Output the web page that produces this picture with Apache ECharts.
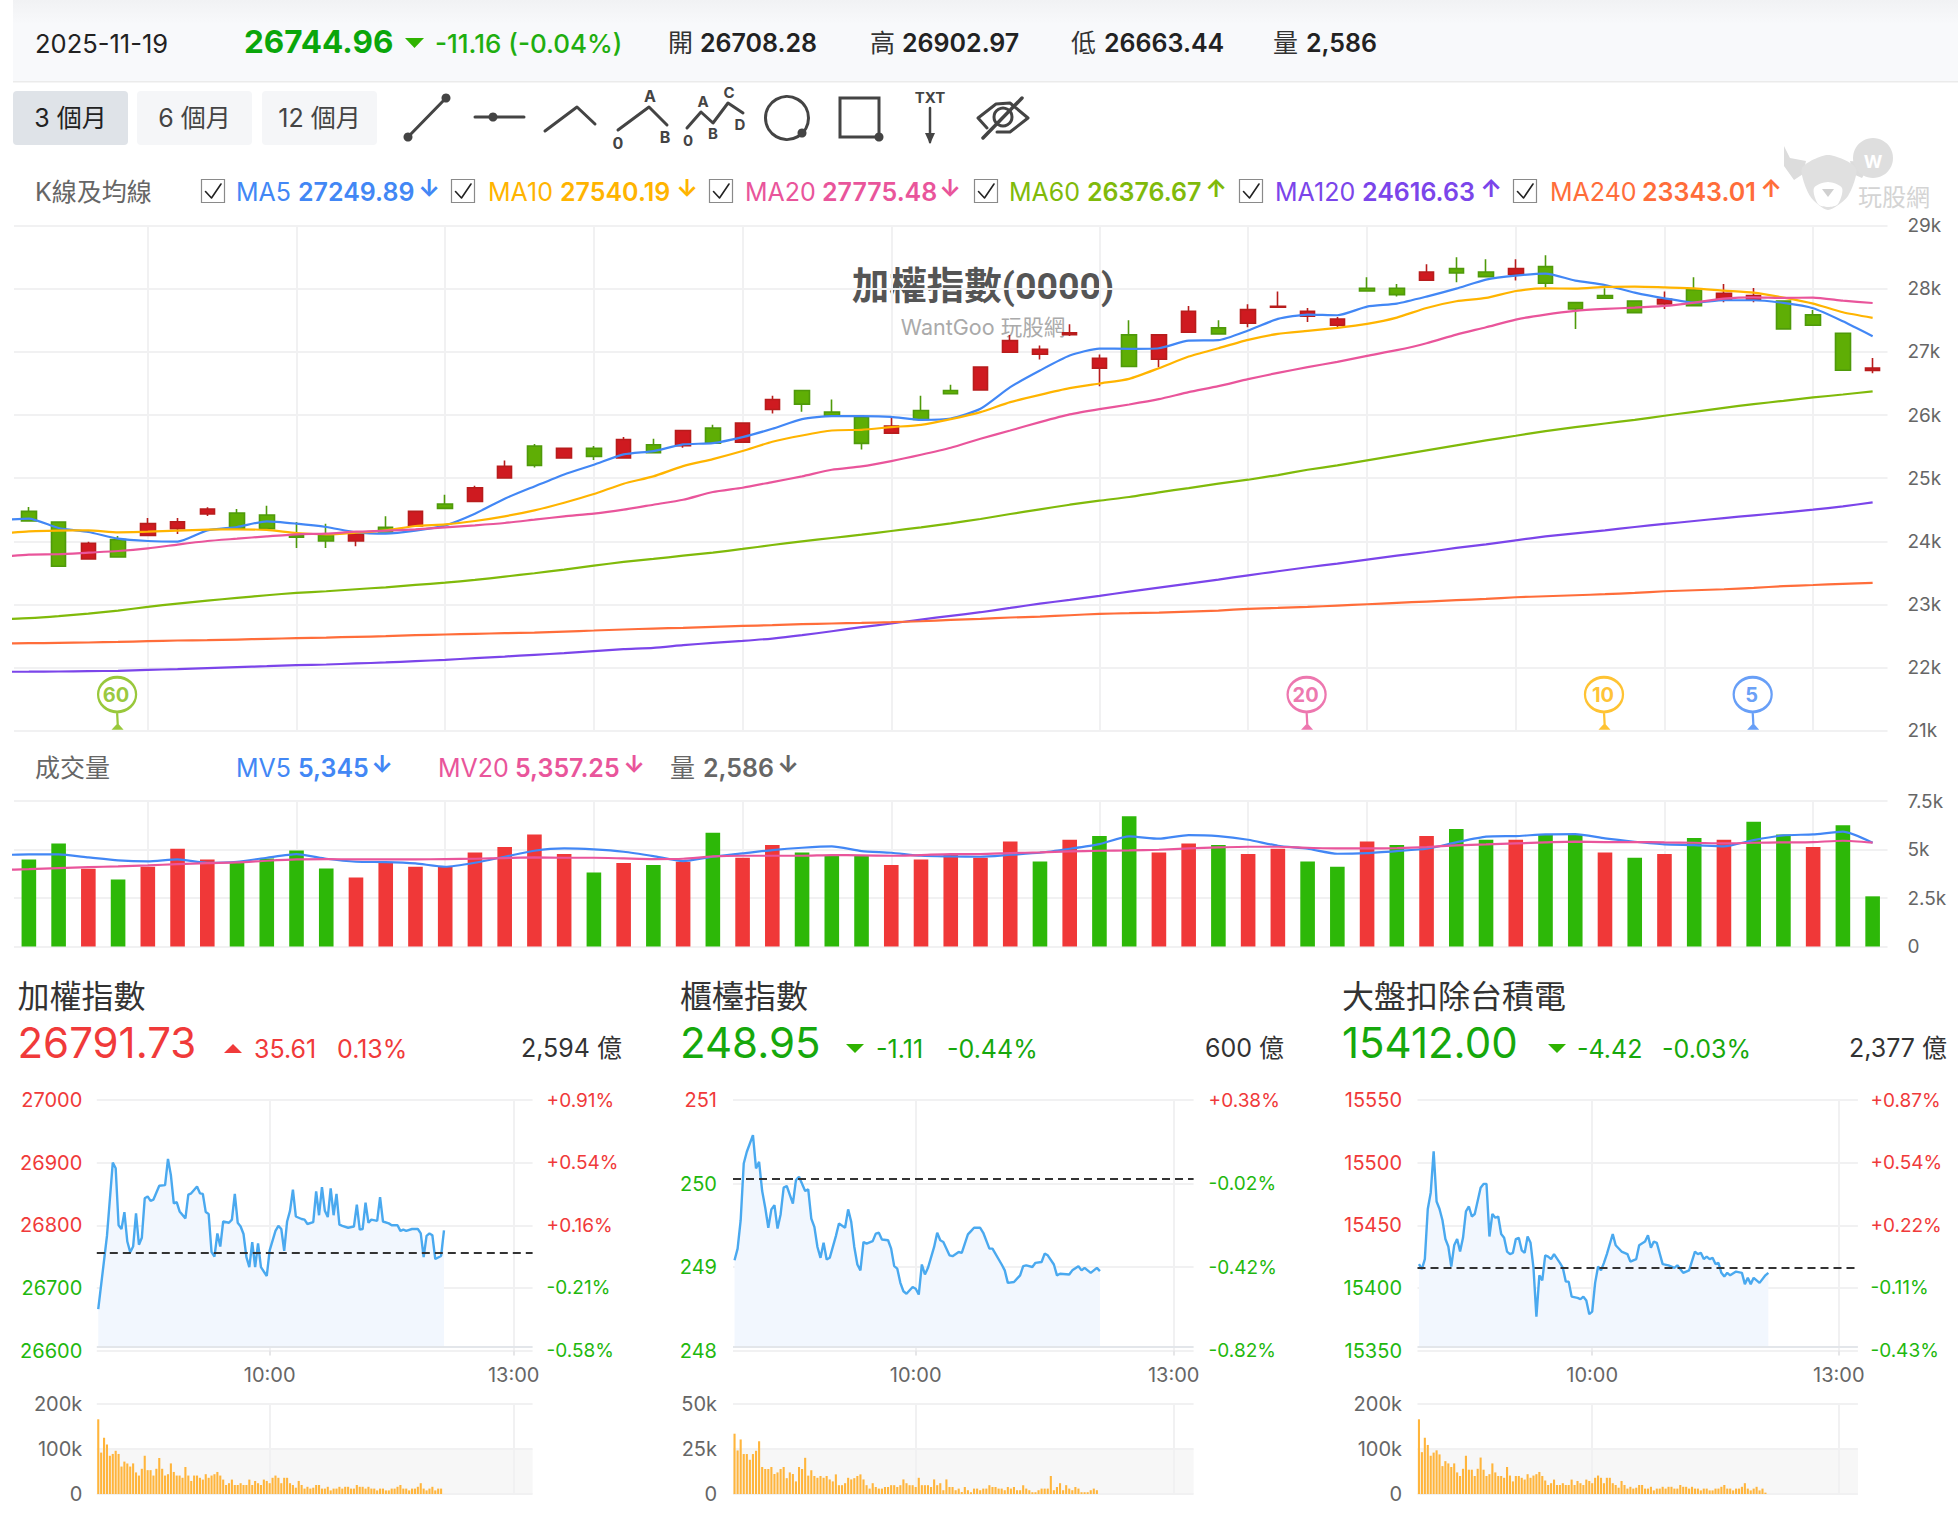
<!DOCTYPE html>
<html>
<head>
<meta charset="utf-8">
<title>加權指數(0000)</title>
<style>
  html, body { margin: 0; padding: 0; background: #fff; }
  #chart { width: 1958px; height: 1523px; }
</style>
</head>
<body>
<div id="chart"></div>
<script src="https://cdn.jsdelivr.net/npm/echarts@6/dist/echarts.min.js"></script>
<script>
// [open, close, low, high]
var candles = [
  [24475,24322,24322,24543],[24306,23605,23605,24306],[23721,23969,23721,23995],[24027,23752,23752,24085],
  [24095,24280,24095,24369],[24201,24311,24116,24369],[24433,24512,24401,24538],[24449,24201,24201,24512],
  [24417,24201,24201,24565],[24095,24064,23895,24306],[24095,24005,23895,24280],[24005,24122,23921,24122],
  [24222,24148,24148,24396],[24243,24475,24243,24475],[24591,24522,24522,24739],[24633,24849,24633,24881],
  [25002,25187,25002,25282],[25509,25203,25171,25540],[25319,25472,25319,25472],[25472,25345,25287,25509],
  [25319,25614,25319,25651],[25530,25403,25403,25625],[25514,25756,25482,25756],[25793,25556,25556,25846],
  [25572,25873,25572,25873],[26089,26247,26025,26305],[26389,26173,26052,26389],[26047,25994,25994,26247],
  [25967,25551,25456,25967],[25714,25825,25714,25952],[26073,25931,25931,26305],[26389,26337,26337,26479],
  [26400,26759,26400,26759],[26996,27180,26996,27270],[26964,27043,26880,27101],[27275,27302,27254,27439],
  [26743,26901,26458,26959],[27270,26769,26769,27502],[26885,27270,26759,27270],[27312,27645,27312,27729],
  [27381,27286,27286,27502],[27455,27671,27391,27755],[27708,27724,27708,27956],[27565,27645,27476,27697],
  [27423,27523,27391,27555],[28008,27966,27966,28183],[28008,27908,27877,28077],[28135,28267,28135,28388],
  [28320,28251,28103,28499],[28267,28193,28193,28467],[28230,28320,28130,28467],[28351,28088,28024,28531],
  [27782,27681,27365,27782],[27892,27850,27850,28008],[27808,27623,27623,27808],[27761,27834,27681,27956],
  [27987,27734,27734,28183],[27829,27929,27787,28077],[27824,27892,27787,28014],[27808,27365,27365,27808],
  [27587,27423,27423,27666],[27296,26711,26711,27296],[26708.28,26744.96,26663.44,26902.97]
];

// moving averages: the first value sits just left of the first candle
var ma5 = [24333,24359,24211,24148,24042,24005,23995,24174,24227,24317,24280,24227,24143,24122,24169,24253,24438,24675,24870,25060,25213,25377,25430,25535,25556,25651,25783,25936,25983,25983,25973,25925,25946,26099,26442,26706,26943,27054,27049,27059,27180,27186,27339,27523,27592,27581,27718,27766,27877,28003,28146,28209,28241,28130,28061,27940,27850,27782,27819,27819,27776,27692,27486,27249.89];
var ma10 = [24122,24158,24169,24174,24143,24153,24169,24185,24190,24180,24132,24111,24137,24174,24243,24269,24322,24396,24491,24612,24749,24913,25029,25192,25303,25430,25577,25677,25756,25767,25809,25846,25936,26047,26205,26321,26426,26500,26574,26743,26927,27059,27191,27286,27333,27381,27444,27544,27697,27803,27856,27966,28008,28003,28030,28035,28024,28008,27972,27940,27861,27766,27629,27540.19];
var ma20 = [23752,23789,23795,23821,23847,23889,23948,24005,24042,24079,24111,24122,24153,24169,24190,24222,24253,24290,24343,24396,24438,24501,24580,24659,24781,24849,24939,25029,25134,25187,25271,25371,25482,25625,25756,25888,26010,26094,26168,26252,26363,26458,26569,26669,26759,26843,26938,27028,27138,27275,27391,27513,27592,27650,27681,27703,27729,27782,27845,27866,27856,27861,27813,27775.48];
var ma60 = [22766,22782,22814,22856,22903,22961,23014,23061,23104,23146,23183,23209,23241,23272,23309,23346,23388,23441,23494,23552,23615,23673,23721,23773,23821,23879,23942,24000,24053,24106,24164,24222,24285,24354,24433,24507,24580,24644,24702,24776,24844,24913,24976,25050,25134,25203,25282,25361,25440,25519,25598,25672,25746,25809,25867,25925,25989,26052,26115,26173,26226,26279,26326,26376.67];
var ma120 = [21933,21935,21938,21943,21949,21964,21975,21991,22007,22022,22038,22049,22065,22081,22102,22123,22149,22175,22202,22228,22260,22291,22313,22355,22392,22423,22460,22513,22576,22640,22698,22761,22819,22877,22945,23014,23072,23135,23204,23267,23330,23394,23462,23526,23589,23647,23710,23773,23831,23895,23953,24016,24079,24127,24174,24227,24275,24322,24369,24412,24454,24501,24554,24616.63];
var ma240 = [22381,22386,22391,22397,22407,22418,22429,22434,22444,22455,22466,22476,22487,22497,22513,22524,22534,22545,22555,22571,22587,22603,22618,22629,22645,22661,22671,22687,22698,22708,22719,22734,22756,22771,22793,22808,22829,22851,22861,22872,22887,22903,22930,22945,22961,22982,23003,23025,23046,23067,23088,23114,23130,23146,23162,23183,23209,23225,23241,23262,23290,23308,23326,23343.01];

var volumes = [4489,5315,4008,3457,4111,5040,4489,4317,4541,4954,4025,3560,4317,4111,4111,4850,5126,5779,4764,3818,4300,4197,4369,5865,4575,5229,4850,4713,4678,4197,4489,4713,4575,5418,4386,5504,5693,6708,4850,5315,5229,4764,5040,4386,4111,5418,5229,5693,6054,5504,5504,5745,5779,4850,4575,4764,5590,5504,6433,5779,5126,6244,2586];
var volumeRed = [0,0,1,0,1,1,1,0,0,0,0,1,1,1,1,1,1,1,1,0,1,0,1,0,1,1,0,0,0,1,1,1,1,1,0,1,0,0,1,1,0,1,1,0,0,1,0,1,0,0,1,0,0,1,0,1,0,1,0,0,1,0,0];
var mv5 = [4713,4747,4747,4592,4438,4386,4489,4317,4369,4575,4764,4524,4369,4352,4283,4111,4317,4627,4936,5057,5005,4885,4661,4403,4627,4799,4971,5091,5160,4919,4833,4678,4644,4627,4730,4833,5040,5280,5676,5556,5745,5693,5504,5194,5040,4782,4816,4919,5040,5366,5659,5693,5779,5796,5573,5401,5263,5229,5160,5487,5728,5779,5917,5345];
var mv20 = [3939,3990,4042,4094,4128,4180,4248,4300,4334,4420,4489,4506,4489,4489,4489,4506,4524,4558,4592,4575,4575,4541,4506,4524,4644,4678,4678,4678,4713,4696,4678,4713,4764,4764,4816,4850,4902,4936,4954,4988,5057,5108,5143,5143,5091,5057,5057,5074,5126,5212,5263,5315,5366,5401,5384,5384,5366,5349,5315,5349,5366,5384,5452,5357.25];

var gridDays = [4,9,14,19,24,29,36,41,45,50,55,60];
var pinDays = [3,43,53,58];
var pinNames = ['60','20','10','5'];

var volTicks = [0,2500,5000,7500];
var volTickLabels = ['0','2.5k','5k','7.5k'];

// intraday panels: slot = position on the session axis, 150 slots wide
var timeLabelSlots = [59,143];
var timeLabels = ['10:00','13:00'];

var twaSlots = [0,3,5,6,7,8,9,10,11,12,13,14,15,16,17,18,19,21,23,24,25,26,27,28,30,31,32,34,35,36,37,38,39,40,41,42,43,45,46,47,48,49,50,51,52,53,54,55,56,58,59,61,62,63,64,65,66,67,68,70,71,72,74,75,76,77,78,79,80,81,82,83,84,86,88,89,90,91,92,93,94,96,97,98,100,101,103,104,105,106,108,110,111,112,113,114,115,116,118,119];
var twaPrice = [26666,26783,26900,26891,26800,26794,26821,26774,26757,26766,26819,26769,26780,26843,26846,26839,26841,26863,26864,26906,26880,26835,26837,26822,26811,26849,26851,26862,26851,26850,26821,26818,26757,26750,26787,26766,26806,26804,26809,26850,26804,26798,26786,26749,26733,26773,26733,26771,26733,26719,26760,26791,26799,26794,26759,26806,26823,26857,26814,26810,26809,26802,26805,26854,26816,26861,26823,26813,26859,26816,26850,26801,26799,26796,26798,26833,26793,26794,26836,26804,26809,26807,26845,26806,26803,26800,26800,26791,26793,26791,26794,26794,26787,26749,26783,26787,26784,26746,26751,26791.73];
var twaVolume = [166,92,125,110,85,89,96,89,61,72,68,61,68,48,41,56,85,53,53,41,56,80,56,41,44,68,49,41,41,36,60,41,29,41,41,36,32,44,36,41,44,49,41,32,20,24,32,20,20,24,20,20,32,20,29,24,20,32,29,24,36,41,36,24,36,36,24,20,14,29,20,12,16,12,14,20,20,12,12,16,8,12,12,16,12,16,16,12,12,20,16,16,12,16,12,12,8,12,12,8,8,12,12,16,20,12,12,8,12,12,16,24,12,8,12,16,8,12,12];
var twaTicks = [26600,26700,26800,26900,27000];
var twaPct = ['-0.58%','-0.21%','+0.16%','+0.54%','+0.91%'];

var otcSlots = [0,1,2,3,4,6,7,8,9,10,11,12,13,14,15,16,17,19,20,21,23,24,25,26,27,28,29,30,31,33,34,36,37,38,39,40,41,42,43,45,46,47,48,50,51,52,53,54,55,56,58,59,60,61,62,63,65,66,67,68,70,71,73,74,76,77,78,80,81,83,84,87,88,89,91,93,94,95,97,98,100,101,102,104,105,106,109,110,112,113,114,116,118,119];
var otcPrice = [249.08,249.22,249.56,250.24,250.38,250.58,250.18,250.26,249.91,249.71,249.47,249.69,249.74,249.46,249.63,249.95,249.97,249.76,250.04,250.08,249.91,249.93,249.58,249.48,249.24,249.11,249.29,249.09,249.11,249.37,249.52,249.47,249.69,249.54,249.24,249.03,248.96,249.30,249.28,249.31,249.40,249.41,249.33,249.32,249.22,249.01,248.98,248.81,248.71,248.68,248.76,248.74,248.67,249.03,248.91,248.99,249.24,249.41,249.32,249.30,249.14,249.13,249.18,249.17,249.39,249.43,249.47,249.47,249.41,249.22,249.22,249.03,248.96,248.81,248.82,248.90,249.01,249.02,249.00,249.05,249.06,249.16,249.14,249.03,248.90,248.92,248.91,248.96,249.01,248.96,248.99,248.93,248.99,248.95];
var otcVolume = [33.5,24.2,30.3,22.2,22.2,19,22.2,24,29.3,15,13.9,13.9,15,11.1,12,13.9,15,8.8,12,11.1,7,15,13.9,20.1,10.2,13.2,10,9,10,9,10,8.1,7,10.9,4.9,4.9,6,9,8.1,8.8,10,10.9,8.1,4.9,3,6,3.9,3,3,3.9,3.9,4.9,4.9,3.9,4.9,8.1,6,4.9,4.9,3.9,9,4.9,4.9,4.9,3.9,8.1,4.9,6,2.1,8.1,3.9,3.9,2.1,3,1.1,3.9,2.1,1,3,3,2.1,3,3,4.9,3.9,3.9,3,3,2.1,3.9,3,3.9,2.1,2.1,4.9,3,2.1,1,1,2.1,3,3,3,10,2.1,3.9,6,2.1,4.9,3,2.1,3.9,3,1,1,1,2.1,3,2.1];
var otcTicks = [248,249,250,251];
var otcPct = ['-0.82%','-0.42%','-0.02%','+0.38%'];

var exSlots = [0,1,2,3,4,5,6,7,8,9,10,11,12,13,14,15,16,17,18,19,21,22,23,24,25,26,27,28,29,30,31,32,33,34,35,36,37,38,39,40,41,42,43,44,45,46,48,49,50,51,52,54,55,56,57,58,59,60,61,62,63,64,66,67,69,71,72,74,75,77,78,79,80,81,83,85,87,88,90,91,92,94,95,96,97,98,99,100,101,102,103,104,105,106,108,110,111,112,113,114,116,118,119];
var exPrice = [15419,15415,15423,15463,15476,15509,15469,15463,15454,15439,15433,15417,15434,15439,15429,15440,15461,15465,15457,15459,15480,15483,15483,15441,15459,15456,15457,15443,15440,15429,15427,15428,15439,15440,15430,15428,15441,15436,15416,15377,15410,15406,15426,15425,15423,15427,15420,15416,15405,15405,15393,15392,15391,15393,15390,15379,15381,15404,15417,15414,15420,15427,15443,15434,15429,15427,15421,15423,15434,15437,15442,15432,15437,15436,15419,15418,15416,15418,15412,15413,15414,15429,15427,15428,15423,15425,15423,15424,15419,15420,15412,15409,15412,15410,15413,15412,15403,15408,15403,15408,15404,15410,15412];
var exVolume = [166,93,125,109,85,92,97,88,62,73,68,60,68,48,40,56,85,54,54,40,56,81,54,40,44,68,48,40,40,36,60,41,28,40,40,36,32,44,36,41,44,49,40,30,20,24,32,20,20,24,20,20,32,20,29,24,20,32,29,24,36,41,36,24,36,36,24,20,14,29,20,12,16,12,14,20,20,12,12,16,8,12,12,16,12,16,16,12,12,20,16,16,12,16,12,12,8,12,12,8,8,12,12,16,20,12,12,8,12,12,16,24,12,8,12,16,8,12,3];
var exTicks = [15350,15400,15450,15500,15550];
var exPct = ['-0.43%','-0.11%','+0.22%','+0.54%','+0.87%'];

var FONT = 'Inter, "Noto Sans CJK TC", sans-serif';
var TITLE_FONT = 'Roboto, "Noto Sans CJK TC", sans-serif';
var RED = '#f03a3a';
var GREEN = '#1fb80f';
var LINE = '#f1f1f2';

var chart = echarts.init(document.getElementById('chart'), null, { renderer: 'svg' });

function txt(x, y, s, size, color, weight, align, family) {
  return {
    type: 'text', silent: true,
    style: {
      x: x, y: y, text: s, fill: color,
      font: (weight || 400) + ' ' + size + 'px ' + (family || FONT),
      align: align || 'left', verticalAlign: 'middle'
    }
  };
}
function pl(points, color, w) {
  return { type: 'polyline', silent: true, shape: { points: points },
    style: { stroke: color || '#444', lineWidth: w || 3, fill: null, lineCap: 'round', lineJoin: 'round' } };
}
function dot(x, y, r) {
  return { type: 'circle', silent: true, shape: { cx: x, cy: y, r: r || 4.5 }, style: { fill: '#444' } };
}
function box(x, y, w, h, fill, r) {
  return { type: 'rect', silent: true, shape: { x: x, y: y, width: w, height: h, r: r || 0 }, style: { fill: fill } };
}
function checkbox(x) {
  return [
    { type: 'rect', silent: true, shape: { x: x + 0.5, y: 179.5, width: 23, height: 23 },
      style: { fill: '#fff', stroke: '#8a8a8a', lineWidth: 1.2 } },
    pl([[x + 4.5, 191.5], [x + 10.5, 198], [x + 20, 184]], '#222', 1.6)
  ];
}

var els = [];
// header strip
els.push({ type: 'rect', silent: true, shape: { x: 13, y: 0, width: 1945, height: 81 },
  style: { fill: new echarts.graphic.LinearGradient(0, 0, 0, 1, [
    { offset: 0, color: '#f1f2f4' }, { offset: 0.3, color: '#f8f9fb' }, { offset: 1, color: '#f8f9fb' }]) } });
els.push(box(13, 81, 1945, 1.5, '#ebebeb'));
els.push(txt(35, 43, '2025-11-19', 25.5, '#222'));
els.push(txt(244, 41, '26744.96', 31.5, '#0aa60a', 700));
els.push({ type: 'polygon', silent: true, shape: { points: [[405, 38], [424, 38], [414.5, 48]] }, style: { fill: '#2fb300' } });
els.push(txt(435, 43, '-11.16 (-0.04%)', 26, '#1fae10', 500));
els.push(txt(668, 43, '開', 25, '#333'));
els.push(txt(700, 43, '26708.28', 25, '#222', 600));
els.push(txt(870, 43, '高', 25, '#333'));
els.push(txt(902, 43, '26902.97', 25, '#222', 600));
els.push(txt(1071, 43, '低', 25, '#333'));
els.push(txt(1104, 43, '26663.44', 25, '#222', 600));
els.push(txt(1273, 43, '量', 25, '#333'));
els.push(txt(1306, 43, '2,586', 25, '#222', 600));

// range buttons
els.push(box(13, 91, 115, 54, '#dfe3e8', 4));
els.push(box(137, 91, 115, 54, '#f5f6f8', 4));
els.push(box(262, 91, 115, 54, '#f5f6f8', 4));
els.push(txt(70.5, 118, '3 個月', 25, '#222', 400, 'center'));
els.push(txt(194.5, 118, '6 個月', 25, '#444', 400, 'center'));
els.push(txt(319.5, 118, '12 個月', 25, '#444', 400, 'center'));

// drawing tools
els.push(pl([[408, 137], [446, 98]]), dot(408, 137), dot(446, 98));
els.push(pl([[475, 117], [524, 117]]), dot(493, 117));
els.push(pl([[545, 131], [577, 107], [595, 124]]));
els.push(pl([[618, 130], [649, 107], [667, 125]]));
els.push(txt(650, 96, 'A', 16, '#444', 700, 'center'), txt(665, 137, 'B', 16, '#444', 700, 'center'), txt(618, 143, '0', 16, '#444', 700, 'center'));
els.push(pl([[687, 128], [701, 112], [713, 123], [728, 103], [743, 113]]));
els.push(txt(703, 101, 'A', 15, '#444', 700, 'center'), txt(713, 133, 'B', 15, '#444', 700, 'center'), txt(729, 92, 'C', 15, '#444', 700, 'center'), txt(740, 124, 'D', 15, '#444', 700, 'center'), txt(688, 140, '0', 15, '#444', 700, 'center'));
els.push({ type: 'circle', silent: true, shape: { cx: 787, cy: 118, r: 21.5 }, style: { fill: null, stroke: '#444', lineWidth: 3 } }, dot(802, 133));
els.push({ type: 'rect', silent: true, shape: { x: 840, y: 98, width: 39, height: 39 }, style: { fill: null, stroke: '#444', lineWidth: 3 } }, dot(879, 137));
els.push(txt(930, 97, 'TXT', 15, '#444', 700, 'center'));
els.push(pl([[930, 108], [930, 142]], '#444', 2.5));
els.push({ type: 'polygon', silent: true, shape: { points: [[925, 133], [935, 133], [930, 144]] }, style: { fill: '#444' } });
els.push(pl([[987, 128], [978, 118], [996, 104], [1010, 103], [1028, 118], [1010, 132], [997, 132]], '#444', 3));
els.push({ type: 'circle', silent: true, shape: { cx: 1003, cy: 117, r: 9 }, style: { fill: null, stroke: '#444', lineWidth: 3 } });
els.push(pl([[983, 138], [1022, 98]], '#444', 3.5));

// moving-average legend
var maNames = ['MA5', 'MA10', 'MA20', 'MA60', 'MA120', 'MA240'];
var maColors = ['#4287f5', '#ffb400', '#e9559b', '#80ba0a', '#7b45ea', '#ff6d3a'];
var maNowText = ['27249.89', '27540.19', '27775.48', '26376.67', '24616.63', '23343.01'];
var maArrows = ['↓', '↓', '↓', '↑', '↑', '↑'];
var maX = [201, 451, 709, 974, 1239, 1513];
var maNameX = [236, 488, 745, 1009, 1275, 1550];
var maValX = [298, 560, 822, 1087, 1362, 1642];
var maArrowX = [429, 687, 950, 1216, 1491, 1771];
els.push(txt(35, 192, 'K線及均線', 25, '#666'));
for (var m = 0; m < maNames.length; m++) {
  els = els.concat(checkbox(maX[m]));
  els.push(txt(maNameX[m], 192, maNames[m], 25, maColors[m]));
  els.push(txt(maValX[m], 192, maNowText[m], 25, maColors[m], 600));
  els.push(txt(maArrowX[m], 188, maArrows[m], 24, maColors[m], 700, 'center'));
}

// logo mark top right
els.push({ type: 'polygon', silent: true, shape: { points: [[1784, 146], [1790, 158], [1806, 161], [1803, 174], [1794, 180], [1784, 166]] }, style: { fill: '#dcdcdc' } });
els.push({ type: 'polygon', silent: true, shape: { points: [[1868, 150], [1860, 162], [1850, 161], [1853, 174], [1862, 178], [1870, 165]] }, style: { fill: '#dcdcdc' } });
els.push({ type: 'polygon', silent: true, shape: { smooth: 0.25, points: [[1802, 168], [1828, 155], [1856, 168], [1848, 196], [1828, 210], [1810, 196]] }, style: { fill: '#e0e0e0' } });
els.push({ type: 'polygon', silent: true, shape: { smooth: 0.3, points: [[1814, 188], [1828, 182], [1842, 188], [1838, 204], [1828, 207], [1818, 204]] }, style: { fill: '#ffffff' } });
els.push({ type: 'polygon', silent: true, shape: { points: [[1822, 189], [1834, 189], [1828, 197]] }, style: { fill: '#d0d0d0' } });
els.push({ type: 'circle', silent: true, shape: { cx: 1873, cy: 158, r: 20 }, style: { fill: '#dedede' } });
els.push(txt(1873, 161, 'W', 18, '#fff', 700, 'center'));
els.push(txt(1858, 197, '玩股網', 24, '#d4d4d4'));

// watermark
els.push(txt(983, 286, '加權指數(0000)', 37.5, '#555', 700, 'center', TITLE_FONT));
els.push(txt(983, 327, 'WantGoo 玩股網', 21.5, '#aaa', 400, 'center'));

// volume legend
els.push(txt(35, 768, '成交量', 25, '#666'));
els.push(txt(236, 768, 'MV5', 25, maColors[0]), txt(298, 768, '5,345', 25, maColors[0], 600), txt(382, 764, '↓', 24, maColors[0], 700, 'center'));
els.push(txt(438, 768, 'MV20', 25, maColors[2]), txt(515, 768, '5,357.25', 25, maColors[2], 600), txt(634, 764, '↓', 24, maColors[2], 700, 'center'));
els.push(txt(670, 768, '量', 25, '#666'), txt(703, 768, '2,586', 25, '#666', 600), txt(788, 764, '↓', 24, '#666', 700, 'center'));

// intraday panel heads
var panelTitles = ['加權指數', '櫃檯指數', '大盤扣除台積電'];
var panelPrice = ['26791.73', '248.95', '15412.00'];
var panelChange = ['35.61', '-1.11', '-4.42'];
var panelPctNow = ['0.13%', '-0.44%', '-0.03%'];
var panelAmount = ['2,594 億', '600 億', '2,377 億'];
var panelRise = [true, false, false];
var headX = [17.5, 680, 1342];
var triX = [224, 846, 1548];
var changeX = [254, 876, 1577];
var pctX = [337, 947, 1662];
var amountX = [622, 1284, 1947];
for (var p = 0; p < 3; p++) {
  var c = panelRise[p] ? RED : '#16a80c';
  els.push(txt(headX[p], 996, panelTitles[p], 32, '#333'));
  els.push(txt(headX[p], 1042, panelPrice[p], 42, c));
  els.push({ type: 'polygon', silent: true, shape: { points: panelRise[p]
    ? [[triX[p], 1053], [triX[p] + 18, 1053], [triX[p] + 9, 1044]]
    : [[triX[p], 1044], [triX[p] + 18, 1044], [triX[p] + 9, 1053]] }, style: { fill: panelRise[p] ? RED : '#2fb300' } });
  els.push(txt(changeX[p], 1049, panelChange[p], 25, c));
  els.push(txt(pctX[p], 1049, panelPctNow[p], 25, c));
  els.push(txt(amountX[p], 1048, panelAmount[p], 25, '#333', 400, 'right'));
}

function inList(list) {
  return function (index) { return list.indexOf(index) >= 0; };
}
function slotNames(n) {
  var out = [];
  for (var i = 0; i < n; i++) {
    var k = timeLabelSlots.indexOf(i);
    out.push(k >= 0 ? timeLabels[k] : '');
  }
  return out;
}
function pairs(xs, ys) {
  return ys.map(function (v, i) { return [xs ? xs[i] : i - 1, v]; });
}

var grids = [
  { left: 14, width: 1873.5, top: 225.7, height: 505 },
  { left: 14, width: 1873.5, top: 801, height: 145.5 }
];
var dayIndex = candles.map(function (d, i) { return i; });
var dayAxis = {
  type: 'category', data: dayIndex, axisLine: { show: false }, axisTick: { show: false }, axisLabel: { show: false },
  splitLine: { show: true, alignWithLabel: true, interval: inList(gridDays), lineStyle: { color: LINE, width: 2 } }
};
var xAxes = [
  Object.assign({ gridIndex: 0 }, dayAxis),
  { type: 'value', gridIndex: 0, min: -0.5, max: 62.5, show: false },
  Object.assign({ gridIndex: 1 }, dayAxis),
  { type: 'value', gridIndex: 1, min: -0.5, max: 62.5, show: false }
];
var yAxes = [
  { type: 'value', gridIndex: 0, position: 'right', min: 21000, max: 29000, interval: 1000, axisLine: { show: false }, axisTick: { show: false },
    axisLabel: { margin: 20, fontSize: 19, color: '#666', fontFamily: FONT, formatter: function (v) { return v / 1000 + 'k'; } },
    splitLine: { lineStyle: { color: LINE, width: 2 } } },
  { type: 'value', gridIndex: 1, position: 'right', min: 0, max: 7500, interval: 2500, axisLine: { show: false }, axisTick: { show: false },
    axisLabel: { margin: 20, fontSize: 19, color: '#666', fontFamily: FONT, formatter: function (v) { return volTickLabels[volTicks.indexOf(v)]; } },
    splitLine: { lineStyle: { color: LINE, width: 2 } } }
];

function maSeries(name, data, color, xi, yi, w) {
  return { name: name, type: 'line', xAxisIndex: xi, yAxisIndex: yi, data: pairs(null, data), showSymbol: false, smooth: 0.2,
    lineStyle: { color: color, width: w || 2.2 }, silent: true, z: 4 };
}

var pinSymbol = 'path://M18 1.5A16.5 16.5 0 1 1 18 34.5A16.5 16.5 0 1 1 18 1.5ZM18 34.5L18.6 47L16 50L21 50L18.6 47';
var series = [
  { type: 'candlestick', xAxisIndex: 0, yAxisIndex: 0, data: candles, barWidth: 15, silent: true,
    itemStyle: { color: '#cf1a20', color0: '#5fae05', borderColor: '#b81c1c', borderColor0: '#4f9a0a', borderWidth: 1.6 }, z: 3 },
  maSeries('MA5', ma5, maColors[0], 1, 0),
  maSeries('MA10', ma10, maColors[1], 1, 0),
  maSeries('MA20', ma20, maColors[2], 1, 0),
  maSeries('MA60', ma60, maColors[3], 1, 0),
  maSeries('MA120', ma120, maColors[4], 1, 0),
  maSeries('MA240', ma240, maColors[5], 1, 0),
  { type: 'scatter', xAxisIndex: 0, yAxisIndex: 0, silent: true, clip: false, z: 5,
    symbol: pinSymbol, symbolSize: [38, 51], symbolOffset: [-1, -28],
    data: pinDays.map(function (d, i) {
      var col = [maColors[3], maColors[2], maColors[1], maColors[0]][i];
      return { value: [d, 21000], itemStyle: { color: '#fff', borderColor: col, borderWidth: 2.6 },
        label: { show: true, formatter: pinNames[i], position: 'inside', offset: [-1, -8], color: col, fontSize: 20, fontWeight: 700, fontFamily: FONT } };
    }) },
  { type: 'bar', xAxisIndex: 2, yAxisIndex: 1, barWidth: 14.6, silent: true, z: 3,
    data: volumes.map(function (v, i) { return { value: v, itemStyle: { color: volumeRed[i] ? '#f03838' : '#2db808' } }; }) },
  maSeries('MV5', mv5, maColors[0], 3, 1),
  maSeries('MV20', mv20, maColors[2], 3, 1)
];

// three intraday panels
var pLeft = [96.8, 733, 1417.5];
var pWidth = [435.8, 460.6, 440.4];
var pLabelGap = [14.5, 16, 15.5];
var pPctGap = [14, 15, 12.5];
var pTicks = [twaTicks, otcTicks, exTicks];
var pPct = [twaPct, otcPct, exPct];
var pSlots = [twaSlots, otcSlots, exSlots];
var pData = [twaPrice, otcPrice, exPrice];
var pVol = [twaVolume, otcVolume, exVolume];
var pVolMax = [200, 50, 200];
var pVolStep = [100, 25, 100];
var pPrev = [26756.12, 250.06, 15416.42];
var pBase = [26606, 248.04, 15353];
var names150 = slotNames(150);

pTicks.forEach(function (ticks, i) {
  var g = grids.length;
  var x0 = xAxes.length;
  var y0 = yAxes.length;
  grids.push({ left: pLeft[i], width: pWidth[i], top: 1100, height: 250.5 });
  grids.push({ left: pLeft[i], width: pWidth[i], top: 1404, height: 90 });
  var up = function (v) { return Number(v) > pPrev[i] ? RED : GREEN; };
  var vert = { show: true, alignWithLabel: true, interval: inList(timeLabelSlots), lineStyle: { color: LINE, width: 2 } };
  xAxes.push({ type: 'category', gridIndex: g, data: names150, axisLine: { show: false },
    axisTick: { show: true, alignWithLabel: true, interval: inList(timeLabelSlots), length: 5, lineStyle: { color: '#e6e6e8', width: 2 } },
    axisLabel: { show: true, interval: inList(timeLabelSlots), margin: 14.5, fontSize: 20, color: '#666', fontFamily: FONT },
    splitLine: vert });
  xAxes.push({ type: 'value', gridIndex: g, min: -0.5, max: 149.5, show: false });
  xAxes.push({ type: 'category', gridIndex: g + 1, data: names150, axisLine: { show: false }, axisTick: { show: false }, axisLabel: { show: false }, splitLine: vert });
  var step = ticks[1] - ticks[0];
  yAxes.push({ type: 'value', gridIndex: g, position: 'left', min: ticks[0], max: ticks[ticks.length - 1], interval: step, axisLine: { show: false }, axisTick: { show: false },
    axisLabel: { margin: pLabelGap[i], fontSize: 20, color: up, fontFamily: FONT, formatter: function (v) { return String(v); } }, splitLine: { lineStyle: { color: LINE, width: 2 } } });
  yAxes.push({ type: 'value', gridIndex: g, position: 'right', min: ticks[0], max: ticks[ticks.length - 1], interval: step, axisLine: { show: false }, axisTick: { show: false },
    axisLabel: { margin: pPctGap[i], fontSize: 19, color: up, fontFamily: FONT, formatter: function (v) { return pPct[i][ticks.indexOf(v)]; } }, splitLine: { show: false } });
  yAxes.push({ type: 'value', gridIndex: g + 1, position: 'left', min: 0, max: pVolMax[i], interval: pVolStep[i], axisLine: { show: false }, axisTick: { show: false },
    axisLabel: { margin: pLabelGap[i], fontSize: 20, color: '#666', fontFamily: FONT, formatter: function (v) { return v ? v + 'k' : '0'; } },
    splitLine: { lineStyle: { color: LINE, width: 2 } },
    splitArea: { show: true, areaStyle: { color: ['#f7f7f7', 'rgba(255,255,255,0)'] } } });

  series.push({ type: 'line', xAxisIndex: x0 + 1, yAxisIndex: y0, data: pairs(pSlots[i], pData[i]), showSymbol: false, silent: true, z: 4,
    lineStyle: { color: '#4aa9ef', width: 2.4 },
    areaStyle: { color: '#f2f7fe', opacity: 1, origin: pBase[i] },
    markLine: { silent: true, symbol: 'none', animation: false, label: { show: false },
      data: [
        { yAxis: pPrev[i], lineStyle: { type: [8, 5], color: '#333', width: 1.8 } },
        { yAxis: pBase[i], lineStyle: { type: 'solid', color: '#e3e6ea', width: 2 } }
      ] } });
  series.push({ type: 'bar', xAxisIndex: x0 + 2, yAxisIndex: y0 + 2, data: pVol[i], barWidth: 2.1, silent: true, z: 3,
    itemStyle: { color: '#ffb53c' } });
});

var option = {
  animation: false,
  backgroundColor: '#fff',
  textStyle: { fontFamily: FONT },
  graphic: { elements: els },
  grid: grids,
  xAxis: xAxes,
  yAxis: yAxes,
  series: series
};
chart.setOption(option);
window.addEventListener('resize', chart.resize);
</script>
</body>
</html>
